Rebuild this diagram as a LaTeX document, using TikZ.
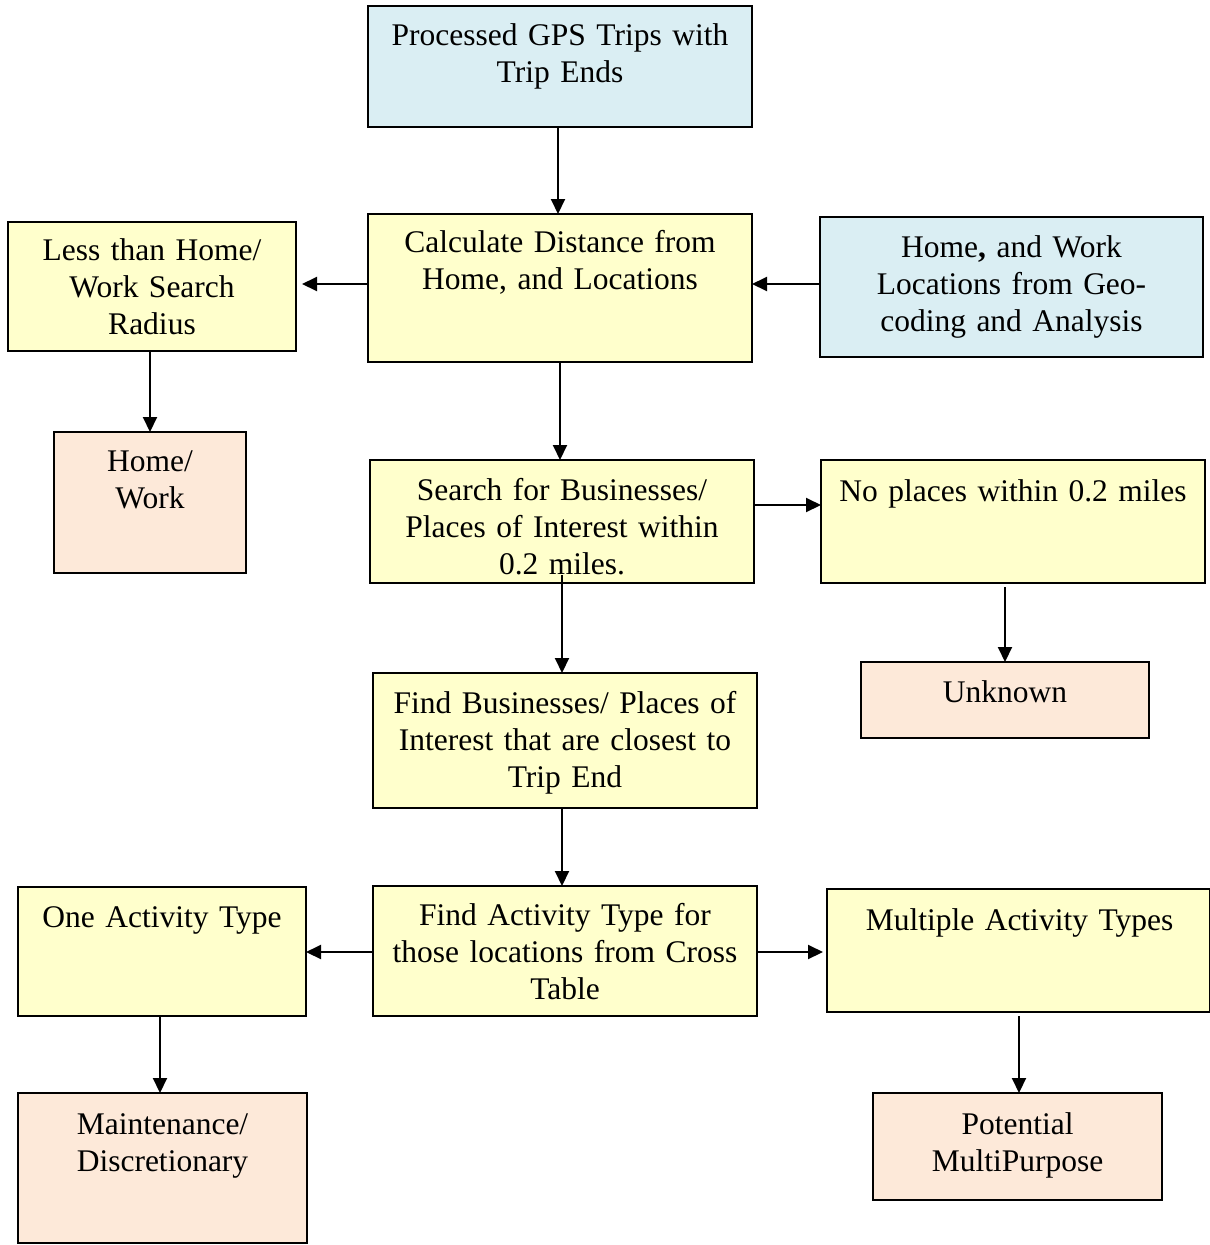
\documentclass[tikz,border=0pt]{standalone}
\usepackage{fontspec}
\setmainfont{Liberation Serif}
\usetikzlibrary{arrows.meta,calc}
\definecolor{cblue}{HTML}{DAEEF3}
\definecolor{cyel}{HTML}{FFFFCC}
\definecolor{cpeach}{HTML}{FDE9D9}
\tikzset{
  boxst/.style={draw=black, line width=1.8pt, inner sep=0pt, outer sep=0pt},
  txt/.style={anchor=north, inner sep=0pt, outer sep=0pt, text width=400pt, align=center,
    font=\fontsize{31.5}{37}\selectfont},
  arr/.style={line width=2pt, -{Triangle[length=15pt,width=14pt]}},
}
\newcommand\mybox[6]{\node[boxst, fill=#6, minimum width=#4pt, minimum height=#5pt] (#1) at (#2,#3) {};}
\newcommand\mytext[4]{\node[txt] (#1t) at (#2,#3-25.4) {\strut #4};}
\begin{document}
\begin{tikzpicture}[x=1pt,y=-1pt]
\useasboundingbox (0,0) rectangle (1210,1245);
\fill[white] (0,0) rectangle (1210,1245);
% boxes
\mybox{gps}{560}{66.5}{384}{121}{cblue}
\mybox{calc}{560}{288}{384}{148}{cyel}
\mybox{less}{152}{286.5}{288}{129}{cyel}
\mybox{hw}{1011.5}{287}{383}{140}{cblue}
\mybox{hwp}{150}{502.5}{192}{141}{cpeach}
\mybox{search}{562}{521.5}{384}{123}{cyel}
\mybox{nopl}{1013}{521.5}{384}{123}{cyel}
\mybox{unk}{1005}{700}{288}{76}{cpeach}
\mybox{find}{565}{740.5}{384}{135}{cyel}
\mybox{fa}{565}{951}{384}{130}{cyel}
\mybox{one}{162}{951.5}{288}{129}{cyel}
\mybox{mult}{1018.5}{950.5}{383}{123}{cyel}
\mybox{maint}{162.5}{1168}{289}{150}{cpeach}
\mybox{pot}{1017.5}{1146.5}{289}{107}{cpeach}
% texts
\mytext{gps}{560}{44.5}{Processed GPS Trips with\\Trip Ends}
\mytext{calc}{560}{252}{Calculate Distance from\\Home, and Locations}
\mytext{less}{152}{260}{Less than Home/\\Work Search\\Radius}
\mytext{hw}{1011.5}{256.5}{Home\textbf{,} and Work\\Locations from Geo-\\coding and Analysis}
\mytext{hwp}{150}{470.5}{Home/\\Work}
\mytext{search}{562}{499.5}{Search for Businesses/\\Places of Interest within\\0.2 miles.}
\mytext{nopl}{1013}{500.5}{No places within 0.2 miles}
\mytext{unk}{1005}{701.5}{Unknown}
\mytext{find}{565}{712.5}{Find Businesses/ Places of\\Interest that are closest to\\Trip End}
\mytext{fa}{565}{924.5}{Find Activity Type for\\those locations from Cross\\Table}
\mytext{one}{162}{926.5}{One Activity Type}
\mytext{mult}{1019.5}{929.5}{Multiple Activity Types}
\mytext{maint}{162.5}{1133.5}{Maintenance/\\Discretionary}
\mytext{pot}{1017.5}{1133.5}{Potential\\MultiPurpose}
% arrows
\draw[arr] ($(gps.south)+(-2,0)$) -- ($(calc.north)+(-2,0)$);
\draw[arr] ($(calc.west)+(0,-4)$) -- ($(less.east)+(6,-2.5)$);
\draw[arr] ($(hw.west)+(0,-3)$) -- ($(calc.east)+(0,-4)$);
\draw[arr] ($(less.south)+(-2,0)$) -- (hwp.north);
\draw[arr] (calc.south) -- ($(search.north)+(-2,0)$);
\draw[arr] ($(search.east)+(0,-16.5)$) -- ($(nopl.west)+(0,-16.5)$);
\draw[arr] ($(search.south)+(0,-8)$) -- ($(find.north)+(-3,0)$);
\draw[arr] ($(nopl.south)+(-8,4)$) -- (unk.north);
\draw[arr] ($(find.south)+(-3,0)$) -- ($(fa.north)+(-3,0)$);
\draw[arr] ($(fa.west)+(0,1)$) -- ($(one.east)+(0,0.5)$);
\draw[arr] ($(fa.east)+(0,1)$) -- ($(mult.west)+(-4,1.5)$);
\draw[arr] ($(one.south)+(-2,0)$) -- ($(maint.north)+(-2.5,0)$);
\draw[arr] ($(mult.south)+(0.5,4)$) -- ($(pot.north)+(1.5,0)$);
\end{tikzpicture}
\end{document}
